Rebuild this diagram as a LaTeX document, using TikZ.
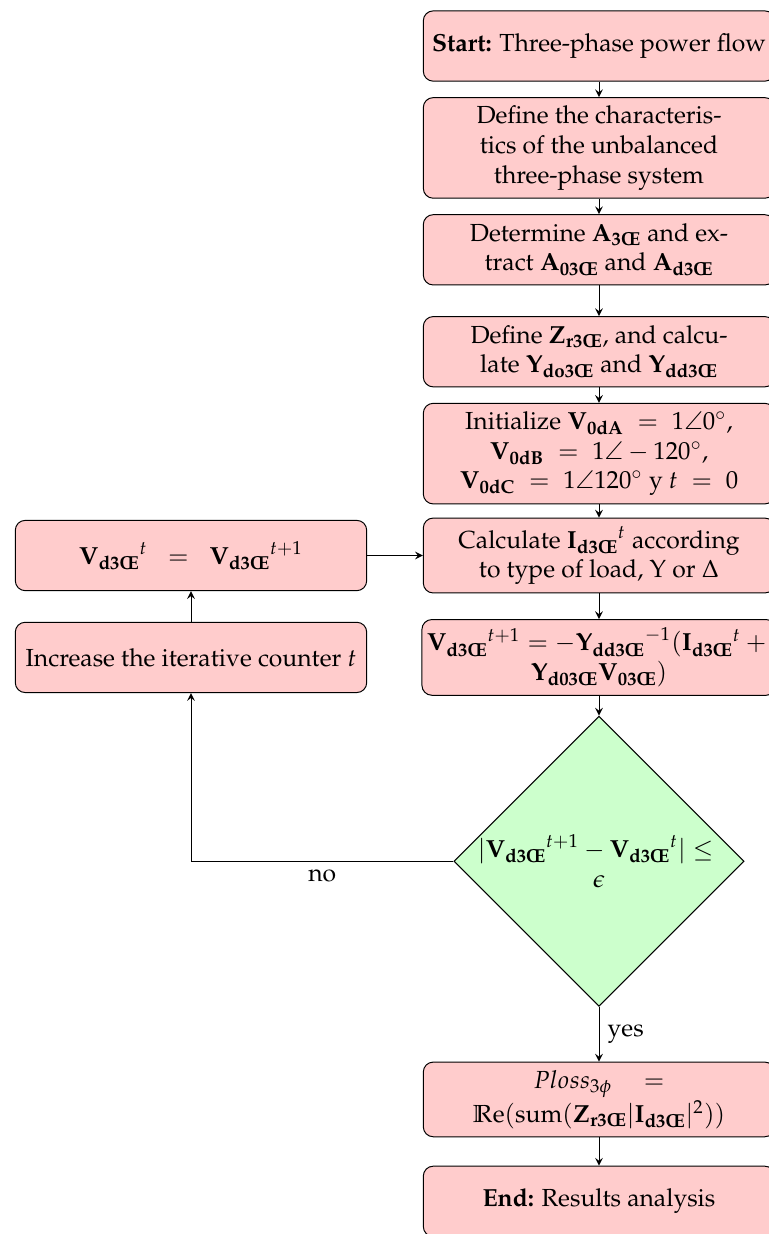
\documentclass[tikz,border=0pt]{standalone}
\usepackage[T1]{fontenc}
\usepackage{mathpazo}
\usepackage{amsmath}
\usepackage{amssymb}
\usetikzlibrary{arrows,shapes,positioning}
\usepackage{xcolor}
\definecolor{fcpink}{RGB}{255,204,204}
\definecolor{fcgreen}{RGB}{204,255,204}
\tikzstyle{startstop} = [rectangle, rounded corners, minimum width=5cm, minimum height=1cm, text centered, draw=black, fill=fcpink]
\tikzstyle{process} = [startstop, align=center]
\tikzstyle{decision} = [diamond, aspect=1, inner sep=-0.5pt, align=center, draw=black, fill=fcgreen]
\tikzstyle{arrow} = [->,>=stealth]
\newcommand{\bsub}[2]{{\mathbf{#1}_{\textbf{#2}}}}

\begin{document}
\begin{tikzpicture}[node distance=1.45cm, on grid]
\useasboundingbox (-8.524,0.655) rectangle (2.405,-16.905);
% Main column
\node[startstop] (start) {\textbf{Start:} Three-phase power flow};
\node[process, below=of start] (define) {Define the characteris-\\tics of the unbalanced\\three-phase system};
\node[process, below=of define] (incidence) {Determine $\bsub{A}{3\OE}$ and ex-\\tract $\bsub{A}{03\OE}$ and $\bsub{A}{d3\OE}$};
\node[process, below=of incidence] (admit) {Define $\bsub{Z}{r3\OE}$, and calcu-\\late $\bsub{Y}{do3\OE}$ and $\bsub{Y}{dd3\OE}$};
\node[process, below=of admit] (init) {Initialize $\bsub{V}{0dA} \;=\; 1\angle 0^\circ$,\\$\bsub{V}{0dB} \;=\; 1\angle -120^\circ$,\\$\bsub{V}{0dC} \;=\; 1\angle 120^\circ$ y $t \;=\; 0$};
\node[process, below=of init] (calc) {Calculate ${\bsub{I}{d3\OE}}^t$ according\\to type of load, Y or $\Delta$};
\node[process, inner xsep=2pt, below=of calc] (update) {${\bsub{V}{d3\OE}}^{t+1} = -{\bsub{Y}{dd3\OE}}^{-1}({\bsub{I}{d3\OE}}^t +{}$\\$\bsub{Y}{d03\OE}\bsub{V}{03\OE})$};
\node[decision, below=2.9cm of update] (check) {$|{\bsub{V}{d3\OE}}^{t+1} - {\bsub{V}{d3\OE}}^t| \leq{}$\\$\epsilon$};
\node[process, below=3.39cm of check] (ploss) {$Ploss_{3\phi}\quad=$\\$\mathbb{R}\mathrm{e}(\mathrm{sum}(\bsub{Z}{r3\OE}|\bsub{I}{d3\OE}|^2))$};
\node[startstop, below=of ploss] (end) {\textbf{End:} Results analysis};

% Loop column
\node[process, left=5.806cm of calc] (assign) {${\bsub{V}{d3\OE}}^t \;\;=\;\; {\bsub{V}{d3\OE}}^{t+1}$};
\node[process, left=5.806cm of update] (increase) {Increase the iterative counter $t$};

% Connections
\draw[arrow] (start) -- (define);
\draw[arrow] (define) -- (incidence);
\draw[arrow] (incidence) -- (admit);
\draw[arrow] (admit) -- (init);
\draw[arrow] (init) -- (calc);
\draw[arrow] (calc) -- (update);
\draw[arrow] (update) -- (check);
\draw[arrow] (check) -- node[right] {yes} (ploss);
\draw[arrow] (ploss) -- (end);
\draw[arrow] (check.west) -| node[pos=0.25, below] {no} (increase);
\draw[arrow] (increase) -- (assign);
\draw[arrow] (assign) -- (calc);
\end{tikzpicture}
\end{document}
